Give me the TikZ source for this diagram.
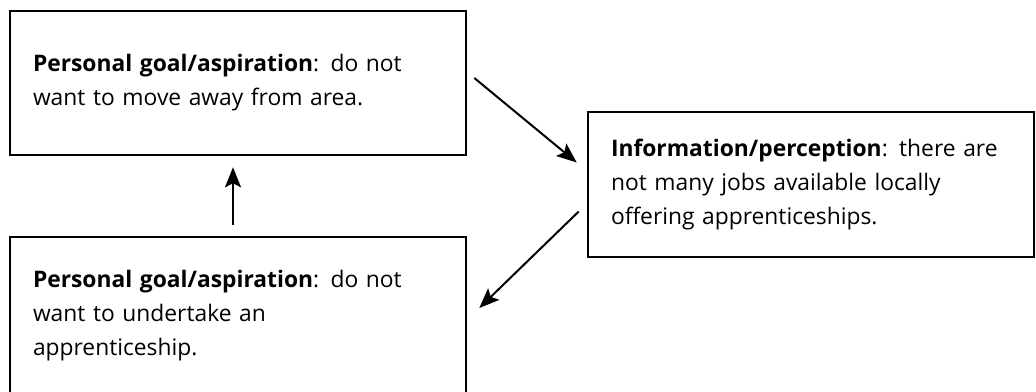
\documentclass[tikz,border=0pt]{standalone}
\usepackage{fontspec}
\setmainfont{Open Sans}
\usetikzlibrary{arrows.meta}

\begin{document}
\begin{tikzpicture}[x=0.5pt, y=-0.5pt, font=\fontsize{11.4}{17}\selectfont, % pixel grid, y down
  stage/.style={draw, line width=1.3pt, align=left, inner xsep=11.5pt},
  link/.style={line width=1pt, -{Stealth[length=10pt, width=8pt, inset=2pt]}}]
  \useasboundingbox (0,0) rectangle (1036,391); % Frame of the figure

  % The three boxes
  \node[stage, text width=205pt, minimum height=72pt] (stay) at (238,83)
    {\textbf{Personal goal/aspiration}: do not\\want to move away from area.};
  \node[stage, text width=200pt, minimum height=72.5pt] (jobs) at (811,184.5)
    {\textbf{Information/perception}: there are\\not many jobs available locally\\offering apprenticeships.};
  \node[stage, text width=205pt, minimum height=79pt] (noapp) at (238,316)
    {\textbf{Personal goal/aspiration}: do not\\want to undertake an\\apprenticeship.};

  % Arrows round the loop
  \draw[link] ([shift={(7,-5)}]stay.east) -- ([shift={(-10,-22)}]jobs.west);
  \draw[link] ([shift={(-8,27)}]jobs.west) -- ([shift={(12,-8)}]noapp.east);
  \draw[link] ([shift={(-5,-11)}]noapp.north) -- ([shift={(-5,11)}]stay.south);
\end{tikzpicture}
\end{document}
